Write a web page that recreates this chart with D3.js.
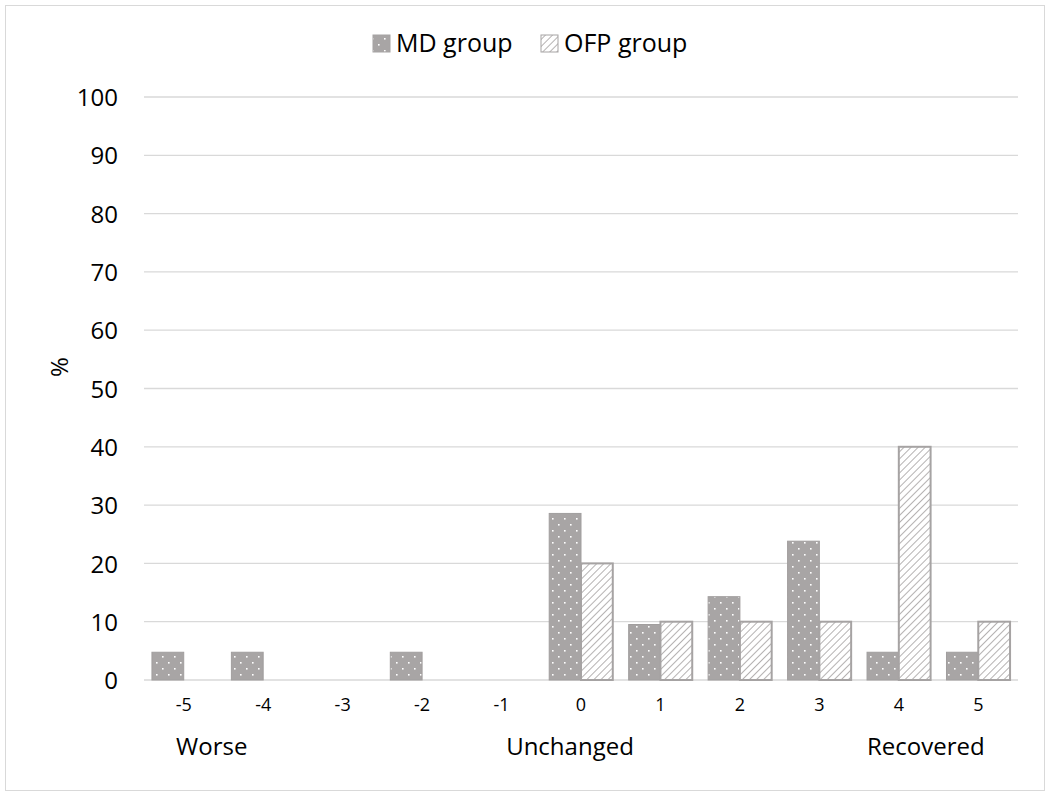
<!DOCTYPE html>
<html><head><meta charset="utf-8">
<script src="https://cdn.jsdelivr.net/npm/d3@7"></script>
<style>body{margin:0;background:#fff;}svg{display:block;font-family:"Open Sans","Liberation Sans",sans-serif;}</style>
</head><body><svg id="c" width="1050" height="797"></svg>
<script>
const categories = ["-5","-4","-3","-2","-1","0","1","2","3","4","5"];
const mdValues  = [4.76,4.76,0,4.76,0,28.57,9.52,14.29,23.81,4.76,4.76];
const ofpValues = [0,0,0,0,0,20,10,10,10,40,10];
const seriesNames = ["MD group","OFP group"];
const yTicks = [0,10,20,30,40,50,60,70,80,90,100];
const groupLabels = [{cat:"-5",text:"Worse",dx:28},{cat:"0",text:"Unchanged",dx:-11},{cat:"4",text:"Recovered",dx:27}];

const FONT = '"Open Sans","Liberation Sans",sans-serif';
const svg = d3.select("#c");
const defs = svg.append("defs");
const dot = defs.append("pattern").attr("id","dots").attr("patternUnits","userSpaceOnUse")
  .attr("width",12).attr("height",12).attr("x",549).attr("y",0);
dot.append("rect").attr("width",12).attr("height",12).attr("fill","#a8a5a5");
dot.append("rect").attr("x",3).attr("y",2).attr("width",1.6).attr("height",1.6).attr("fill","#fff");
dot.append("rect").attr("x",9).attr("y",8).attr("width",1.6).attr("height",1.6).attr("fill","#fff");
const hatch = defs.append("pattern").attr("id","hatch").attr("patternUnits","userSpaceOnUse")
  .attr("width",5).attr("height",5).attr("patternTransform","rotate(45)");
hatch.append("rect").attr("width",5).attr("height",5).attr("fill","#fff");
hatch.append("line").attr("x1",0).attr("y1",0).attr("x2",0).attr("y2",5).attr("stroke","#b5b2b2").attr("stroke-width",2);

svg.append("rect").attr("x",5.5).attr("y",5.5).attr("width",1039).attr("height",785)
  .attr("fill","#fff").attr("stroke","#d9d9d9");

const x = d3.scaleBand().domain(categories).range([144,1018]).paddingInner(0.2).paddingOuter(0.1);
const y = d3.scaleLinear().domain([0,100]).range([680,97]);

const grid = svg.append("g");
grid.selectAll("line").data(yTicks).join("line")
  .attr("x1",144).attr("x2",1018).attr("y1",d=>y(d)).attr("y2",d=>y(d))
  .attr("stroke","#d9d9d9").attr("stroke-width",1.3);

const yAxis = svg.append("g").attr("transform","translate(144,0)")
  .call(d3.axisLeft(y).tickValues(yTicks).tickSize(0).tickPadding(26));
yAxis.attr("font-family",FONT);
yAxis.select(".domain").remove();
yAxis.selectAll("text").attr("font-size",24).attr("fill","#000").attr("dy","0.36em");

const xs = d3.scaleBand().domain(categories).range([144,1018]);
const xAxis = svg.append("g").attr("transform","translate(0,680)")
  .call(d3.axisBottom(xs).tickSize(0).tickPadding(18));
xAxis.attr("font-family",FONT);
xAxis.select(".domain").remove();
xAxis.selectAll("text").attr("font-size",18).attr("fill","#000");

const xin = d3.scaleBand().domain([0,1]).range([0,x.bandwidth()]);
const bars = svg.append("g");
bars.selectAll(".md").data(categories).join("rect")
  .attr("x",(c)=>xs(c)+xs.bandwidth()/2 - xin.bandwidth()).attr("width",xin.bandwidth())
  .attr("y",(c,i)=>y(mdValues[i])).attr("height",(c,i)=>y(0)-y(mdValues[i]))
  .attr("fill","url(#dots)").attr("stroke",(c,i)=>mdValues[i]>0?"#a19e9e":"none").attr("stroke-width",1);
bars.selectAll(".ofp").data(categories).join("rect")
  .attr("x",(c)=>xs(c)+xs.bandwidth()/2).attr("width",xin.bandwidth())
  .attr("y",(c,i)=>y(ofpValues[i])).attr("height",(c,i)=>y(0)-y(ofpValues[i]))
  .attr("fill","url(#hatch)").attr("stroke",(c,i)=>ofpValues[i]>0?"#a6a3a3":"none").attr("stroke-width",2);

svg.append("text").attr("transform","translate(68,367) rotate(-90)").attr("text-anchor","middle")
  .attr("font-size",24).attr("fill","#000").text("%");

svg.append("g").selectAll("text").data(groupLabels).join("text")
  .attr("x",d=>xs(d.cat)+xs.bandwidth()/2+d.dx).attr("y",755).attr("text-anchor","middle")
  .attr("font-size",24).attr("fill","#000").text(d=>d.text);

const leg = svg.append("g");
const legX = [373,541];
seriesNames.forEach((n,i)=>{
  leg.append("rect").attr("x",legX[i]).attr("y",35).attr("width",17).attr("height",17)
    .attr("fill",i===0?"url(#dots)":"url(#hatch)").attr("stroke","#a6a3a3").attr("stroke-width",1);
  leg.append("text").attr("x",legX[i]+23).attr("y",52).attr("font-size",25).attr("fill","#000").text(n);
});
</script></body></html>
